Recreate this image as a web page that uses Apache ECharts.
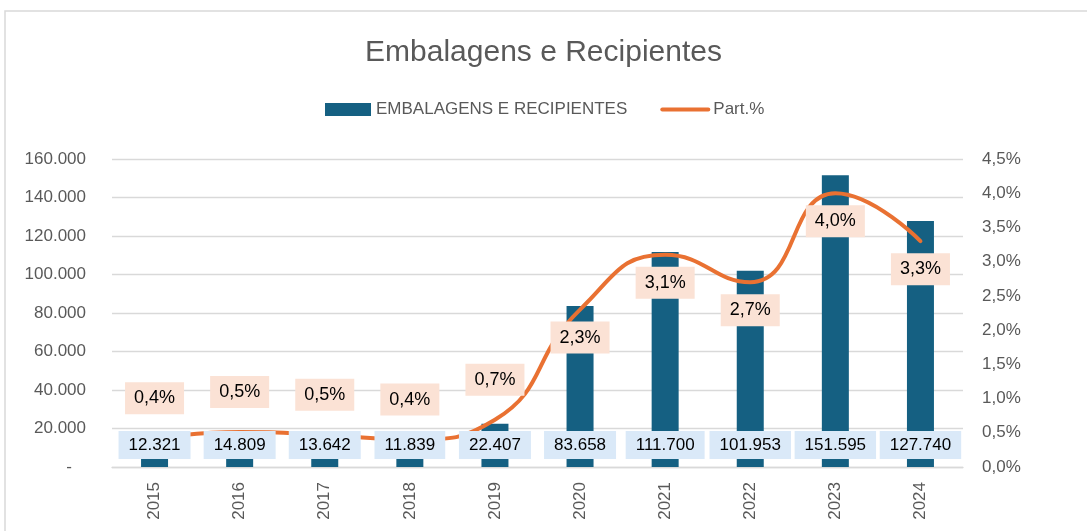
<!DOCTYPE html>
<html lang="pt">

<head>
  <meta charset="utf-8" />
</head>

<body style="height: 100%; margin: 0; background: #fff">
  <div id="container" style="width: 1087px; height: 531px"></div>

  <script type="text/javascript" src="https://fastly.jsdelivr.net/npm/echarts@6/dist/echarts.min.js"></script>

  <script type="text/javascript">
    // data
    var years = ["2015", "2016", "2017", "2018", "2019", "2020", "2021", "2022", "2023", "2024"];
    var volumes = [12321, 14809, 13642, 11839, 22407, 83658, 111700, 101953, 151595, 127740];
    var partPct = [0.42, 0.51, 0.47, 0.40, 0.69, 2.30, 3.10, 2.70, 4.00, 3.30];

    var FONT = "Liberation Sans";
    var GREY = "#595959";

    function thousands(v) {
      return String(Math.round(v)).replace(/\B(?=(\d{3})+(?!\d))/g, ".");
    }
    function pct(v) {
      return v.toFixed(1).replace(".", ",") + "%";
    }

    var dom = document.getElementById("container");
    var myChart = echarts.init(dom, null, { renderer: "canvas" });

    // first five labels sit above the line, the rest below it
    var lineData = partPct.map(function (v, i) {
      return {
        value: v,
        label: i < 5 ? { position: "top", distance: 24 } : { position: "bottom", distance: 12 },
      };
    });

    var option = {
      backgroundColor: "#fff",
      animation: false,
      textStyle: { fontFamily: FONT },
      graphic: [
        {
          type: "rect",
          shape: { x: 5, y: 11, width: 1100, height: 540 },
          style: { fill: "none", stroke: "#d9d9d9", lineWidth: 1.5 },
          silent: true,
        },
      ],
      title: {
        text: "Embalagens e Recipientes",
        left: "center",
        top: 33,
        textStyle: { fontFamily: FONT, fontSize: 30, fontWeight: "normal", color: GREY },
      },
      legend: {
        left: 320,
        top: 96,
        itemWidth: 46,
        itemHeight: 13,
        itemGap: 33,
        textStyle: { fontFamily: FONT, fontSize: 17, color: GREY },
        data: [
          { name: "EMBALAGENS E RECIPIENTES", icon: "rect" },
          {
            name: "Part.%",
            itemStyle: { opacity: 0 },
            lineStyle: { width: 4, cap: "round" },
          },
        ],
      },
      grid: { left: 112, right: 124, top: 159, bottom: 64 },
      xAxis: {
        type: "category",
        data: years,
        axisTick: { show: false },
        axisLine: { lineStyle: { color: "#d9d9d9", width: 1.3 } },
        axisLabel: { rotate: 90, margin: 15, fontFamily: FONT, fontSize: 17, color: GREY },
      },
      yAxis: [
        {
          type: "value",
          min: 0,
          max: 160000,
          interval: 20000,
          axisLine: { show: false },
          axisTick: { show: false },
          splitLine: { lineStyle: { color: "#d9d9d9", width: 1.3 } },
          axisLabel: {
            margin: 26,
            fontFamily: FONT,
            fontSize: 17,
            color: GREY,
            formatter: function (v) {
              return v === 0 ? "-   " : thousands(v);
            },
          },
        },
        {
          type: "value",
          min: 0,
          max: 4.5,
          interval: 0.5,
          axisLine: { show: false },
          axisTick: { show: false },
          splitLine: { show: false },
          axisLabel: {
            margin: 19,
            fontFamily: FONT,
            fontSize: 17,
            color: GREY,
            formatter: pct,
          },
        },
      ],
      series: [
        {
          name: "EMBALAGENS E RECIPIENTES",
          type: "bar",
          data: volumes,
          barWidth: 27,
          z: 1,
          itemStyle: { color: "#156082" },
        },
        {
          name: "Part.%",
          type: "line",
          yAxisIndex: 1,
          data: lineData,
          smooth: 0.5,
          symbol: "circle",
          symbolSize: 0,
          showSymbol: true,
          z: 2,
          itemStyle: { color: "#E97132" },
          lineStyle: { color: "#E97132", width: 4, cap: "round" },
          label: {
            show: true,
            backgroundColor: "#fbe2d5",
            padding: [7, 9, 7, 9],
            color: "#000",
            fontFamily: FONT,
            fontSize: 18,
            formatter: function (p) {
              return pct(p.value);
            },
          },
        },
        {
          // invisible copy of the bars that only carries the value labels above the line
          name: "labels",
          type: "bar",
          data: volumes,
          barWidth: 27,
          barGap: "-100%",
          z: 3,
          silent: true,
          itemStyle: { color: "rgba(0,0,0,0)" },
          label: {
            show: true,
            position: "insideBottom",
            distance: 8,
            backgroundColor: "#dae9f8",
            padding: [6, 10, 5, 10],
            color: "#000",
            fontFamily: FONT,
            fontSize: 17,
            formatter: function (p) {
              return thousands(p.value);
            },
          },
        },
      ],
    };

    myChart.setOption(option);
    window.addEventListener("resize", myChart.resize);
  </script>
</body>

</html>
